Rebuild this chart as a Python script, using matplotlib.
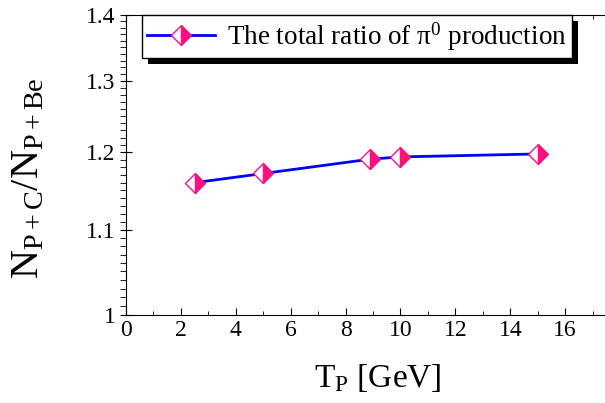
import matplotlib.pyplot as plt
import numpy as np
from matplotlib.ticker import FixedLocator, MultipleLocator, FixedFormatter, NullFormatter
from matplotlib.patches import Rectangle

plt.rcParams['font.family'] = ['Liberation Serif', 'DejaVu Serif']
plt.rcParams['mathtext.fontset'] = 'custom'
plt.rcParams['mathtext.rm'] = 'Liberation Serif'
plt.rcParams['mathtext.it'] = 'Liberation Serif:italic'

tp = [2.5, 5.0, 8.9, 10.0, 15.0]
ratio = [1.160, 1.172, 1.191, 1.194, 1.198]
yticks = [1.0, 1.1, 1.2, 1.3, 1.4]
ylabels = ["1", "1.1", "1.2", "1.3", "1.4"]

fig = plt.figure(figsize=(6.05, 4.03), dpi=100)
ax = fig.add_axes([126/605, 88/403, 479/605, 300/403])

pink = '#ff1080'
ax.plot(tp, ratio, color='#0000ff', lw=2, marker='D', markersize=10,
        fillstyle='right', markerfacecolor=pink, markerfacecoloralt='white',
        markeredgecolor=pink, markeredgewidth=1,
        label=r'The total ratio of π$^\mathrm{0}$ production')

ax.set_yscale('log')
ax.set_ylim(1.0, 1.4)
ax.set_xlim(0, 17.45)
ax.yaxis.set_major_locator(FixedLocator(yticks))
ax.yaxis.set_major_formatter(FixedFormatter(ylabels))
ax.yaxis.set_minor_locator(MultipleLocator(0.01))
ax.yaxis.set_minor_formatter(NullFormatter())
ax.xaxis.set_major_locator(MultipleLocator(2))
ax.xaxis.set_minor_locator(MultipleLocator(1))

ax.spines['right'].set_visible(False)
ax.tick_params(axis='y', which='major', direction='inout', length=8, labelsize=17)
ax.tick_params(axis='y', which='minor', direction='out', length=4)
ax.tick_params(axis='x', which='both', direction='in', top=True, labelsize=17)
ax.tick_params(axis='x', which='major', length=5)
ax.tick_params(axis='x', which='minor', length=3)

ax.set_xlabel(r'T$_\mathrm{P}$ [GeV]', fontsize=24)
ax.xaxis.set_label_coords(0.525, -0.155)
ax.set_ylabel(r'N$_\mathrm{P+C}$/N$_\mathrm{P+Be}$', fontsize=29)
ax.yaxis.set_label_coords(-0.165, 0.455)

leg = ax.legend(loc='upper left', bbox_to_anchor=(0.033, 1.0), fontsize=19.5,
                fancybox=False, edgecolor='black', framealpha=1,
                handlelength=2.5, handletextpad=0.45, borderpad=0.2,
                borderaxespad=0)
leg.get_frame().set_linewidth(1)
leg.set_zorder(5)

fig.canvas.draw()
bb = leg.get_window_extent()
shadow = Rectangle((bb.x0 + 6, bb.y0 - 6), bb.width, bb.height,
                   transform=None, facecolor='black', edgecolor='none',
                   zorder=4.5, clip_on=False)
ax.add_patch(shadow)

fig.savefig('out.png', dpi=100)
